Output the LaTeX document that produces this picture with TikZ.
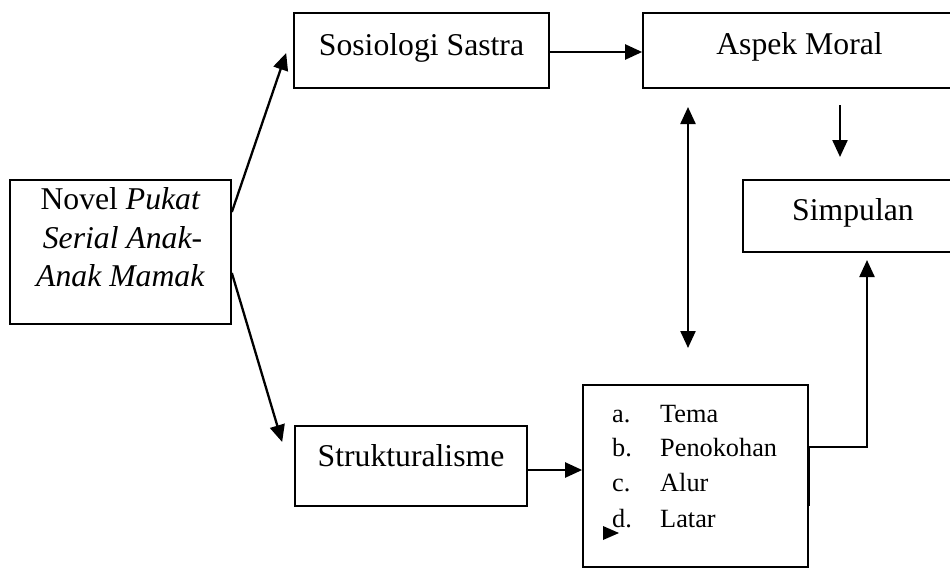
\documentclass[tikz,border=0pt]{standalone}
\usepackage{fontspec}
\setmainfont{Liberation Serif}
\usetikzlibrary{arrows.meta}
\begin{document}
\begin{tikzpicture}[x=1pt,y=-1pt,
  box/.style={draw, line width=1.7pt, inner sep=0pt},
  lbl/.style={font=\fontsize{31.7}{38.5}\selectfont, anchor=base, inner sep=0pt},
  item/.style={font=\fontsize{26.3}{35}\selectfont, anchor=base west, inner sep=0pt},
  conn/.style={line width=2.3pt, -{Triangle[length=17pt,width=15pt]}},
  dconn/.style={line width=2.3pt, {Triangle[length=17pt,width=15pt]}-{Triangle[length=17pt,width=15pt]}},
]
\useasboundingbox (0,0) rectangle (950,568);
\clip (0,0) rectangle (950,568);

% boxes
\node[box, minimum width=221pt, minimum height=144pt] (novel) at (120.5,252) {};
\node[box, minimum width=255pt, minimum height=75pt] (sos) at (421.5,50.5) {};
\node[box, minimum width=317pt, minimum height=75pt] (aspek) at (801.5,50.5) {};
\node[box, minimum width=222pt, minimum height=72pt] (simp) at (854,216) {};
\node[box, minimum width=232pt, minimum height=80pt] (struk) at (411,466) {};
\node[box, minimum width=225pt, minimum height=182pt] (list) at (695.5,476) {};

% texts
\node[lbl] (novelA) at (120.5,209) {Novel \textit{Pukat}};
\node[lbl] (novelB) at (122.5,248) {\textit{Serial Anak-}};
\node[lbl] (novelC) at (120.5,286) {\textit{Anak Mamak}};
\node[lbl] (sostx) at (421.5,55) {Sosiologi Sastra};
\node[lbl] (aspektx) at (799.5,54) {Aspek Moral};
\node[lbl] (simptx) at (853,220) {Simpulan};
\node[lbl] (struktx) at (411,466) {Strukturalisme};

\node[item] (la) at (612,422) {a.};
\node[item] (ta) at (660,422) {Tema};
\node[item] (lb) at (612,456) {b.};
\node[item] (tb) at (660,456) {Penokohan};
\node[item] (lc) at (612,491) {c.};
\node[item] (tc) at (660,491) {Alur};
\node[item] (ld) at (612,527) {d.};
\node[item] (td) at (660,527) {Latar};

% connectors
\draw[conn] ([yshift=40pt]novel.east) -- ([xshift=-7pt,yshift=-2.5pt]sos.west);
\draw[conn] ([yshift=-21pt]novel.east) -- ([xshift=-12pt,yshift=24pt]struk.west);
\draw[conn] ([yshift=-1.5pt]sos.east) -- ([yshift=-1.5pt]aspek.west);
\coordinate (sk) at ([yshift=-4pt]struk.east);
\draw[conn] (sk) -- (sk -| list.west);

\coordinate (dtop) at (688,107);
\coordinate (dbot) at (688,348);
\draw[dconn] (dtop) -- (dbot);

\coordinate (downA) at (840,105);
\coordinate (downB) at (840,157);
\draw[conn] (downA) -- (downB);

\coordinate (le) at ([yshift=29pt]list.east);
\coordinate (uptip) at (867,260);
\draw[conn] (le) -| (uptip);
\draw[line width=3pt] (le) -- ++(0,59);

% stray arrowhead
\fill (603,526) -- (619,533) -- (603,540) -- cycle;
\end{tikzpicture}
\end{document}
